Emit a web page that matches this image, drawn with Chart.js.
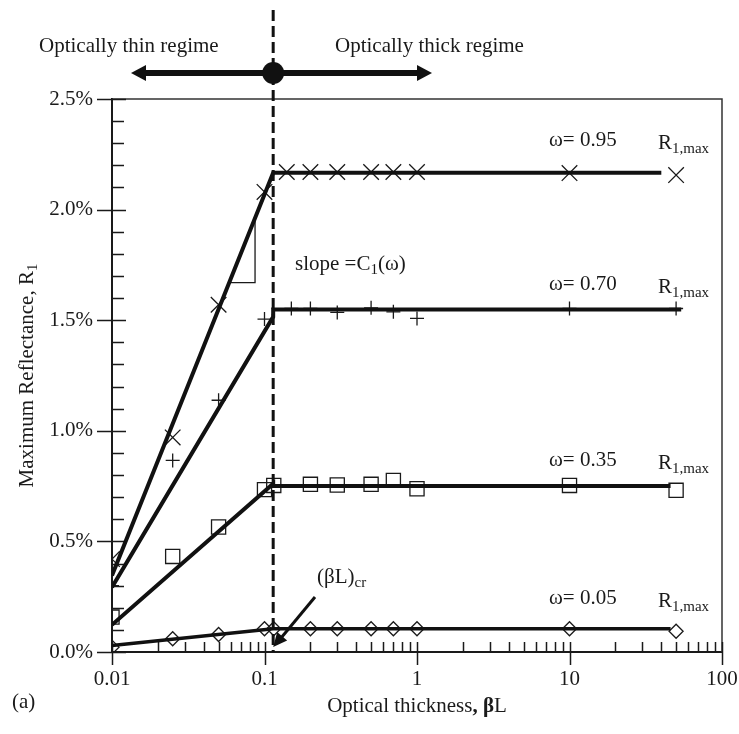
<!DOCTYPE html>
<html>
<head>
<meta charset="utf-8">
<script src="https://cdn.jsdelivr.net/npm/chart.js@4.4.1/dist/chart.umd.min.js"></script>
<style>
  html, body { margin: 0; padding: 0; background: #fff; }
  #wrap { width: 739px; height: 734px; position: relative; }
</style>
</head>
<body>
<div id="wrap"><canvas id="chart"></canvas></div>
<script>
// axis ticks: optical thickness (log) and maximum reflectance (%)
const xTicks = [0.01, 0.1, 1, 10, 100];
const xTickLabels = ['0.01', '0.1', '1', '10', '100'];
const yTicks = [0, 0.5, 1, 1.5, 2, 2.5];
const yTickLabels = ['0.0%', '0.5%', '1.0%', '1.5%', '2.0%', '2.5%'];

// critical optical thickness (βL)cr
const betaLcr = 0.114;

// single scattering albedo of each curve
const omegas = ['0.95', '0.70', '0.35', '0.05'];

// computed R1 (%) against βL
const beta95 = [0.01, 0.025, 0.05, 0.1, 0.14, 0.2, 0.3, 0.5, 0.7, 1, 10, 50];
const refl95 = [0.42, 0.97, 1.57, 2.08, 2.17, 2.17, 2.17, 2.17, 2.17, 2.17, 2.165, 2.156];

const beta70 = [0.01, 0.025, 0.05, 0.1, 0.15, 0.2, 0.3, 0.5, 0.7, 1, 10, 50];
const refl70 = [0.30, 0.866, 1.138, 1.505, 1.553, 1.553, 1.535, 1.556, 1.538, 1.508, 1.553, 1.553];

const beta35 = [0.01, 0.025, 0.05, 0.1, 0.115, 0.2, 0.3, 0.5, 0.7, 1, 10, 50];
const refl35 = [0.158, 0.432, 0.565, 0.734, 0.753, 0.758, 0.755, 0.758, 0.776, 0.738, 0.753, 0.731];

const beta05 = [0.01, 0.025, 0.05, 0.1, 0.115, 0.2, 0.3, 0.5, 0.7, 1, 10, 50];
const refl05 = [0.022, 0.060, 0.079, 0.105, 0.105, 0.105, 0.105, 0.105, 0.105, 0.105, 0.105, 0.094];

// fitted lines: straight in log(βL) up to (βL)cr, flat at R1,max beyond
const fitBeta95 = [0.01, 0.114, 40];
const fitRefl95 = [0.346, 2.167, 2.167];
const fitBeta70 = [0.01, 0.114, 0.114, 54];
const fitRefl70 = [0.293, 1.515, 1.548, 1.548];
const fitBeta35 = [0.01, 0.114, 0.114, 46];
const fitRefl35 = [0.123, 0.761, 0.750, 0.750];
const fitBeta05 = [0.01, 0.114, 46];
const fitRefl05 = [0.029, 0.105, 0.105];

const zip = (xs, ys) => xs.map((x, i) => ({ x: x, y: ys[i] }));

const SERIF = '"Liberation Serif", "Times New Roman", serif';
const INK = '#1a1a1a';
Chart.defaults.font.family = SERIF;
Chart.defaults.color = INK;

function markers(label, xs, ys, style, radius) {
  return {
    label: label,
    data: zip(xs, ys),
    showLine: false,
    pointStyle: style,
    pointRadius: radius,
    pointHoverRadius: radius,
    pointBorderWidth: 1.3,
    borderColor: INK,
    backgroundColor: 'rgba(0,0,0,0)'
  };
}

function fitLine(label, xs, ys, width) {
  return {
    label: label,
    data: zip(xs, ys),
    showLine: true,
    pointRadius: 0,
    borderColor: '#111',
    borderWidth: width,
    borderCapStyle: 'butt',
    borderJoinStyle: 'miter',
    tension: 0
  };
}

// draws text with a smaller lowered part, returns full width
function subText(ctx, main, sub, x, y, size, subSize, drop) {
  ctx.font = size + 'px ' + SERIF;
  ctx.fillText(main, x, y);
  const w = ctx.measureText(main).width;
  ctx.font = subSize + 'px ' + SERIF;
  ctx.fillText(sub, x + w, y + drop);
  return w + ctx.measureText(sub).width;
}

function arrowHead(ctx, tipX, tipY, angle, len, half) {
  ctx.beginPath();
  ctx.moveTo(tipX, tipY);
  ctx.lineTo(tipX - len * Math.cos(angle) + half * Math.sin(angle),
             tipY - len * Math.sin(angle) - half * Math.cos(angle));
  ctx.lineTo(tipX - len * Math.cos(angle) - half * Math.sin(angle),
             tipY - len * Math.sin(angle) + half * Math.cos(angle));
  ctx.closePath();
  ctx.fill();
}

const decorations = {
  id: 'decorations',
  beforeDatasetsDraw(chart) {
    const { ctx, chartArea: a, scales: { x, y } } = chart;
    ctx.save();
    ctx.lineWidth = 1.5;

    // frame top and right
    ctx.strokeStyle = '#333';
    ctx.beginPath();
    ctx.moveTo(a.left, a.top);
    ctx.lineTo(a.right, a.top);
    ctx.lineTo(a.right, a.bottom);
    ctx.stroke();

    // y tick marks, major crossing the axis, minor inside
    ctx.strokeStyle = INK;
    ctx.beginPath();
    for (let i = 0; i <= 25; i++) {
      const py = Math.round(y.getPixelForValue(i / 10)) + 0.5;
      if (i % 5 === 0) {
        ctx.moveTo(a.left - 15, py);
        ctx.lineTo(a.left + 14, py);
      } else {
        ctx.moveTo(a.left, py);
        ctx.lineTo(a.left + 12, py);
      }
    }
    // x tick marks on the log axis
    for (let d = -2; d <= 2; d++) {
      for (let m = 1; m <= 9; m++) {
        const v = m * Math.pow(10, d);
        if (v > 100.0001) break;
        const px = Math.round(x.getPixelForValue(v)) + 0.5;
        ctx.moveTo(px, a.bottom - 10);
        ctx.lineTo(px, m === 1 ? a.bottom + 13 : a.bottom);
      }
    }
    ctx.stroke();

    // slope triangle under the ω = 0.95 line
    const p0x = x.getPixelForValue(fitBeta95[0]), p0y = y.getPixelForValue(fitRefl95[0]);
    const p1x = x.getPixelForValue(fitBeta95[1]), p1y = y.getPixelForValue(fitRefl95[1]);
    const lineXAt = py => p0x + (py - p0y) / (p1y - p0y) * (p1x - p0x);
    const lineYAt = px => p0y + (px - p0x) / (p1x - p0x) * (p1y - p0y);
    const triY = y.getPixelForValue(1.67);
    const triX = x.getPixelForValue(0.0867);
    ctx.lineWidth = 1.3;
    ctx.beginPath();
    ctx.moveTo(lineXAt(triY), triY);
    ctx.lineTo(triX, triY);
    ctx.lineTo(triX, lineYAt(triX));
    ctx.stroke();
    ctx.restore();
  },
  afterDraw(chart) {
    const { ctx, chartArea: a, scales: { x, y } } = chart;
    ctx.save();
    ctx.fillStyle = INK;
    ctx.strokeStyle = '#111';
    ctx.textBaseline = 'alphabetic';
    ctx.textAlign = 'left';

    // dashed line at (βL)cr
    const xc = x.getPixelForValue(betaLcr);
    ctx.lineWidth = 3;
    ctx.setLineDash([11, 5]);
    ctx.beginPath();
    ctx.moveTo(xc, 10);
    ctx.lineTo(xc, a.bottom);
    ctx.stroke();
    ctx.setLineDash([]);

    // regime labels and double arrow
    ctx.font = '21px ' + SERIF;
    ctx.fillText('Optically thin regime', 39, 52);
    ctx.fillText('Optically thick regime', 335, 52);
    ctx.fillStyle = '#111';
    ctx.lineWidth = 6;
    ctx.beginPath();
    ctx.moveTo(144, 73);
    ctx.lineTo(419, 73);
    ctx.stroke();
    arrowHead(ctx, 131, 73, Math.PI, 15, 8);
    arrowHead(ctx, 432, 73, 0, 15, 8);
    ctx.beginPath();
    ctx.arc(xc, 73, 11, 0, Math.PI * 2);
    ctx.fill();

    // curve labels
    ctx.fillStyle = INK;
    const tags = [
      { w: omegas[0], v: 2.167, dy: -27 },
      { w: omegas[1], v: 1.548, dy: -20 },
      { w: omegas[2], v: 0.750, dy: -20 },
      { w: omegas[3], v: 0.105, dy: -25 }
    ];
    tags.forEach(t => {
      const by = y.getPixelForValue(t.v) + t.dy;
      ctx.font = '21px ' + SERIF;
      ctx.fillText('\u03c9= ' + t.w, 549, by);
      subText(ctx, 'R', '1,max', 658, by + 3, 21, 15, 4);
    });

    const sw = subText(ctx, 'slope =C', '1', 295, 270, 21, 15, 4);
    ctx.font = '21px ' + SERIF;
    ctx.fillText('(\u03c9)', 295 + sw, 270);

    // (βL)cr pointer
    subText(ctx, '(\u03b2L)', 'cr', 317, 583, 21, 15, 4);
    ctx.fillStyle = '#111';
    ctx.lineWidth = 3;
    ctx.beginPath();
    ctx.moveTo(315, 597);
    ctx.lineTo(281, 638);
    ctx.stroke();
    arrowHead(ctx, xc, 647, Math.atan2(647 - 597, xc - 315), 14, 6.5);

    // axis titles
    ctx.fillStyle = INK;
    ctx.font = '21px ' + SERIF;
    ctx.fillText('(a)', 12, 708);

    const cx = (a.left + a.right) / 2;
    ctx.font = '21px ' + SERIF;
    const t1 = 'Optical thickness';
    const w1 = ctx.measureText(t1).width;
    ctx.font = 'bold 21px ' + SERIF;
    const t2 = ', \u03b2';
    const w2 = ctx.measureText(t2).width;
    ctx.font = '21px ' + SERIF;
    const w3 = ctx.measureText('L').width;
    const sx = cx - (w1 + w2 + w3) / 2;
    ctx.fillText(t1, sx, 712);
    ctx.font = 'bold 21px ' + SERIF;
    ctx.fillText(t2, sx + w1, 712);
    ctx.font = '21px ' + SERIF;
    ctx.fillText('L', sx + w1 + w2, 712);

    ctx.translate(33, (a.top + a.bottom) / 2);
    ctx.rotate(-Math.PI / 2);
    ctx.font = '21px ' + SERIF;
    const ym = 'Maximum Reflectance, R';
    const wm = ctx.measureText(ym).width;
    ctx.font = '15px ' + SERIF;
    const ws = ctx.measureText('1').width;
    subText(ctx, ym, '1', -(wm + ws) / 2, 0, 21, 15, 4);
    ctx.restore();
  }
};

new Chart(document.getElementById('chart'), {
  type: 'scatter',
  data: {
    datasets: [
      fitLine('fit 0.95', fitBeta95, fitRefl95, 4),
      fitLine('fit 0.70', fitBeta70, fitRefl70, 4),
      fitLine('fit 0.35', fitBeta35, fitRefl35, 4),
      fitLine('fit 0.05', fitBeta05, fitRefl05, 3.5),
      markers('\u03c9 = 0.95', beta95, refl95, 'crossRot', 11),
      markers('\u03c9 = 0.70', beta70, refl70, 'cross', 7),
      markers('\u03c9 = 0.35', beta35, refl35, 'rect', 10),
      markers('\u03c9 = 0.05', beta05, refl05, 'rectRot', 7)
    ]
  },
  options: {
    responsive: true,
    maintainAspectRatio: false,
    animation: false,
    layout: { padding: { top: 99, right: 17, left: 0, bottom: 0 } },
    plugins: {
      legend: { display: false },
      tooltip: { enabled: false }
    },
    scales: {
      x: {
        type: 'logarithmic',
        position: 'bottom',
        min: 0.01,
        max: 100,
        afterBuildTicks: s => { s.ticks = xTicks.map(v => ({ value: v, major: true })); },
        afterFit: s => {
          s.height = 82;
          s.paddingLeft = 0;
          s.paddingRight = 0;
        },
        grid: { display: false, drawTicks: false },
        border: { display: true, color: INK, width: 2 },
        ticks: {
          autoSkip: false,
          maxRotation: 0,
          padding: 15,
          color: INK,
          font: { size: 21, family: SERIF },
          callback: (v, i) => xTickLabels[i]
        }
      },
      y: {
        type: 'linear',
        position: 'left',
        min: 0,
        max: 2.5,
        afterBuildTicks: s => { s.ticks = yTicks.map(v => ({ value: v })); },
        afterFit: s => {
          s.width = 112;
          s.paddingTop = 0;
          s.paddingBottom = 0;
        },
        grid: { display: false, drawTicks: false },
        border: { display: true, color: INK, width: 2 },
        ticks: {
          autoSkip: false,
          padding: 19,
          color: INK,
          font: { size: 21, family: SERIF },
          callback: (v, i) => yTickLabels[i]
        }
      }
    }
  },
  plugins: [decorations]
});
</script>
</body>
</html>
